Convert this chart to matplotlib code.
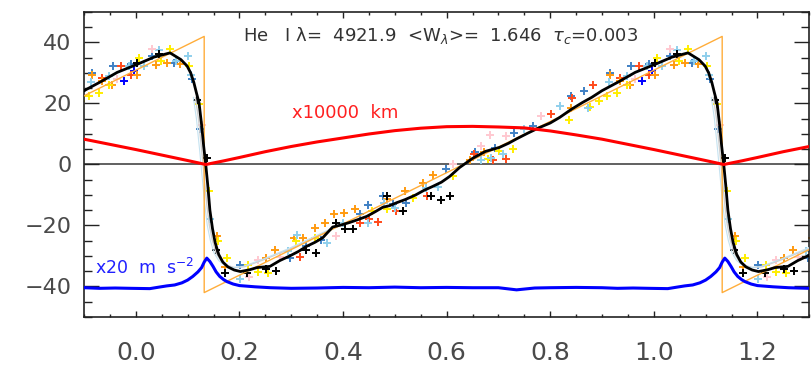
import numpy as np
import matplotlib
matplotlib.use("Agg")
import matplotlib.pyplot as plt
from matplotlib.ticker import MultipleLocator, FormatStrFormatter

# one pulsation cycle, phase -0.1 .. 0.9 (repeated with +1 shift on the plot)
vel_phase = [-0.1, -0.067, -0.036, 0.002, 0.035, 0.066, 0.087, 0.099, 0.106, 0.112,
             0.117, 0.122, 0.127, 0.131, 0.135, 0.139, 0.143, 0.148, 0.153, 0.160,
             0.168, 0.178, 0.190, 0.202, 0.220, 0.234, 0.259, 0.278, 0.297, 0.314,
             0.330, 0.346, 0.361, 0.380, 0.397, 0.413, 0.430, 0.446, 0.462, 0.477,
             0.490, 0.504, 0.520, 0.540, 0.556, 0.573, 0.590, 0.606, 0.625, 0.650,
             0.675, 0.702, 0.720, 0.735, 0.757, 0.779, 0.800, 0.818, 0.840, 0.862,
             0.880, 0.900]
vel = [24.2, 27.2, 30.2, 32.8, 35.2, 36.6, 34.4, 32.3, 30.0, 26.9,
       23.5, 20.3, 13.0, 6.0, 0.0, -7.0, -15.0, -21.0, -25.5, -29.5,
       -32.0, -33.6, -34.6, -35.1, -34.5, -33.8, -33.4, -31.5, -30.0, -28.5,
       -26.8, -25.5, -24.0, -20.5, -19.8, -19.0, -18.0, -17.0, -15.5, -14.0,
       -13.5, -12.5, -11.5, -10.0, -8.5, -7.2, -5.8, -3.9, -1.0, 2.0,
       4.3, 5.6, 7.0, 8.4, 10.3, 12.1, 13.6, 15.4, 18.0, 20.3,
       22.0, 24.2]

gray_phase = [0.115, 0.121, 0.127, 0.132, 0.137, 0.142, 0.148, 0.155, 0.164, 0.175,
              0.190, 0.210, 0.250, 0.300, 0.350, 0.400]
gray_vel = [22.0, 15.0, 5.0, -4.0, -13.0, -20.0, -25.0, -29.0, -31.5, -33.0,
            -33.8, -33.5, -31.0, -27.5, -23.5, -19.5]

radius_phase = [-0.1, -0.05, 0.0, 0.05, 0.1, 0.135, 0.17, 0.2, 0.25, 0.3, 0.35, 0.4,
                0.45, 0.5, 0.55, 0.6, 0.65, 0.7, 0.75, 0.8, 0.85, 0.9]
radius = [8.3, 6.6, 4.9, 3.1, 1.3, 0.0, 1.2, 2.3, 4.2, 5.9, 7.4, 8.7,
          10.0, 11.1, 11.9, 12.4, 12.5, 12.3, 12.0, 11.0, 9.7, 8.3]

acc_phase = [-0.1, -0.07, -0.04, -0.01, 0.027, 0.045, 0.06, 0.075, 0.089, 0.1,
             0.11, 0.12, 0.127, 0.132, 0.137, 0.143, 0.149, 0.155, 0.162, 0.17,
             0.176, 0.188, 0.2, 0.23, 0.26, 0.3, 0.35, 0.4, 0.45, 0.5,
             0.55, 0.6, 0.65, 0.7, 0.735, 0.77, 0.8, 0.85, 0.9]
acc = [-40.4, -40.6, -40.5, -40.6, -40.7, -40.2, -39.8, -39.5, -38.8, -37.9,
       -36.7, -35.2, -33.8, -32.0, -30.7, -31.8, -33.4, -35.2, -36.7, -37.8,
       -38.4, -39.2, -39.7, -40.1, -40.4, -40.6, -40.5, -40.3, -40.4, -40.2,
       -40.4, -40.3, -40.4, -40.4, -41.1, -40.5, -40.4, -40.3, -40.4]

model_phase = [0.132, 1.132]
model_vel = [-42.0, 42.0]

# observed velocities, one colour per data set
obs = {
    "#3f80c4": ([-0.084, -0.045, -0.010, 0.032, 0.074, 0.109, 0.124, 0.202, 0.297, 0.329,
                 0.358, 0.432, 0.448, 0.478, 0.496, 0.522, 0.598, 0.654, 0.693, 0.731,
                 0.766, 0.840, 0.866],
                [30.1, 32.2, 32.8, 35.5, 33.3, 27.9, 11.5, -33.0, -30.6, -26.6,
                 -24.6, -16.2, -13.3, -10.4, -13.1, -12.6, -1.4, 4.0, 5.5, 10.2,
                 12.6, 22.4, 24.0]),
    "#0000ff": ([-0.023, -0.004], [27.5, 30.6]),
    "#ff4a1a": ([-0.065, -0.029, -0.010, 0.317, 0.432, 0.450, 0.467, 0.503, 0.562, 0.652,
                 0.689, 0.714, 0.802, 0.842, 0.882],
                [28.4, 32.2, 29.5, -30.3, -19.1, -18.0, -18.9, -15.3, -10.2, 3.3,
                 1.6, 1.9, 16.7, 21.9, 26.2]),
    "#ff9a10": ([-0.085, -0.066, -0.046, 0.003, 0.038, 0.061, 0.086, 0.157, 0.172, 0.251,
                 0.268, 0.305, 0.323, 0.345, 0.365, 0.382, 0.401, 0.424, 0.484, 0.519,
                 0.554, 0.574, 0.646, 0.673, 0.840],
                [29.5, 27.3, 26.2, 29.5, 32.5, 33.3, 32.8, -23.5, -33.7, -30.6,
                 -27.9, -24.0, -24.0, -20.8, -19.3, -16.2, -15.8, -14.5, -11.2, -8.7,
                 -6.2, -3.3, 1.6, 4.0, 18.6]),
    "#ffee00": ([-0.090, -0.071, -0.052, 0.006, 0.048, 0.066, 0.102, 0.122, 0.142, 0.159,
                 0.176, 0.217, 0.236, 0.255, 0.309, 0.345, 0.455, 0.484, 0.535, 0.613,
                 0.680, 0.702, 0.728, 0.836, 0.876, 0.895],
                [22.4, 23.3, 26.2, 35.0, 33.9, 37.9, 32.2, 19.7, -8.7, -25.1,
                 -30.6, -33.1, -35.3, -35.5, -25.1, -24.0, -15.3, -14.5, -10.9, -3.8,
                 1.9, 4.4, 5.1, 14.5, 18.9, 20.8]),
    "#8fcfec": ([-0.087, -0.052, -0.013, 0.016, 0.045, 0.077, 0.101, 0.106, 0.143, 0.201,
                 0.294, 0.311, 0.369, 0.399, 0.448, 0.480, 0.500, 0.561, 0.583, 0.667,
                 0.686, 0.709, 0.750, 0.818, 0.872],
                [27.0, 29.0, 32.2, 32.2, 37.7, 33.9, 35.7, 29.5, -18.0, -37.7,
                 -28.4, -23.0, -25.9, -19.1, -19.3, -12.6, -14.2, -7.6, -7.3, 1.6,
                 2.2, 3.3, 11.5, 19.3, 18.6]),
    "#ffc8d0": ([-0.036, 0.032, 0.127, 0.219, 0.236, 0.278, 0.387, 0.612, 0.667, 0.684,
                 0.715, 0.783],
                [27.9, 38.0, 13.1, -36.8, -31.4, -30.3, -23.5, 0.0, 6.2, 9.8,
                 9.3, 15.8]),
    "#000000": ([0.003, 0.045, 0.118, 0.138, 0.155, 0.172, 0.214, 0.252, 0.270, 0.329,
                 0.347, 0.387, 0.403, 0.419, 0.484, 0.516, 0.570, 0.590, 0.607],
                [33.3, 36.3, 21.3, 2.2, -28.1, -35.6, -35.5, -34.4, -35.0, -28.1,
                 -29.0, -19.1, -21.3, -21.3, -10.4, -15.3, -10.4, -11.5, -10.2]),
}

shifts = [-1, 0, 1]


def tile(ph, val):
    ph = np.asarray(ph)
    return (np.concatenate([ph + s for s in shifts]),
            np.concatenate([np.asarray(val)] * len(shifts)))


tick_col = "#4a4a4a"
plt.rcParams["font.family"] = ["DejaVu Sans"]

fig = plt.figure(figsize=(8.11, 3.68), dpi=100, facecolor="w")
ax = fig.add_axes([0.1036, 0.1386, 0.8942, 0.8288])

ax.axhline(0, color="#606060", lw=1.4, zorder=1)

for col, (p, v) in obs.items():
    x, y = tile(p, v)
    ax.plot(x, y, "+", color=col, ms=5.5, mew=1.4, ls="none", zorder=2)

for s in shifts:
    ax.plot(np.asarray(gray_phase) + s, gray_vel, color="#cfcfcf", lw=1.0, zorder=3)
    ax.plot(np.asarray(gray_phase) + s - 0.004, gray_vel, color="#c5e2f0", lw=0.8, zorder=3)

x, y = tile(model_phase, model_vel)
ax.plot(x, y, color="#ffad3a", lw=1.0, zorder=4)

x, y = tile(vel_phase, vel)
ax.plot(x, y, color="black", lw=2.0, zorder=5)

x, y = tile(radius_phase, radius)
ax.plot(x, y, color="#ff0000", lw=2.2, zorder=6)

x, y = tile(acc_phase, acc)
ax.plot(x, y, color="#0000ff", lw=2.2, zorder=6)

ax.set_xlim(-0.1, 1.3)
ax.set_ylim(-50, 50)

ax.xaxis.set_major_locator(MultipleLocator(0.2))
ax.xaxis.set_minor_locator(MultipleLocator(0.05))
ax.xaxis.set_major_formatter(FormatStrFormatter("%.1f"))
ax.yaxis.set_major_locator(MultipleLocator(20))
ax.yaxis.set_minor_locator(MultipleLocator(5))

ax.tick_params(axis="both", which="both", direction="in", top=True, right=True,
               colors="#222222", labelcolor=tick_col)
ax.tick_params(axis="x", which="major", length=4.5, width=1.0, labelsize=18, pad=17)
ax.tick_params(axis="x", which="minor", length=2.2, width=1.0)
ax.tick_params(axis="y", which="major", length=11, width=1.0, labelsize=16, pad=9)
ax.tick_params(axis="y", which="minor", length=5.5, width=1.0)
for sp in ax.spines.values():
    sp.set_linewidth(1.2)
    sp.set_color("#222222")

ax.text(0.207, 42.3, "He   I \u03bb=  4921.9  <W$_\u03bb$>=  1.646  $\\tau_c$=0.003",
        ha="left", va="center", fontsize=13, color="#333333", zorder=7)
ax.text(0.301, 17.0, "x10000  km", ha="left", va="center", fontsize=13,
        color="#ff2020", zorder=7)
ax.text(-0.079, -33.8, "x20  m  s$^{-2}$", ha="left", va="center", fontsize=12.5,
        color="#2020ff", zorder=7)

plt.savefig("out.png", dpi=100)
plt.close(fig)
